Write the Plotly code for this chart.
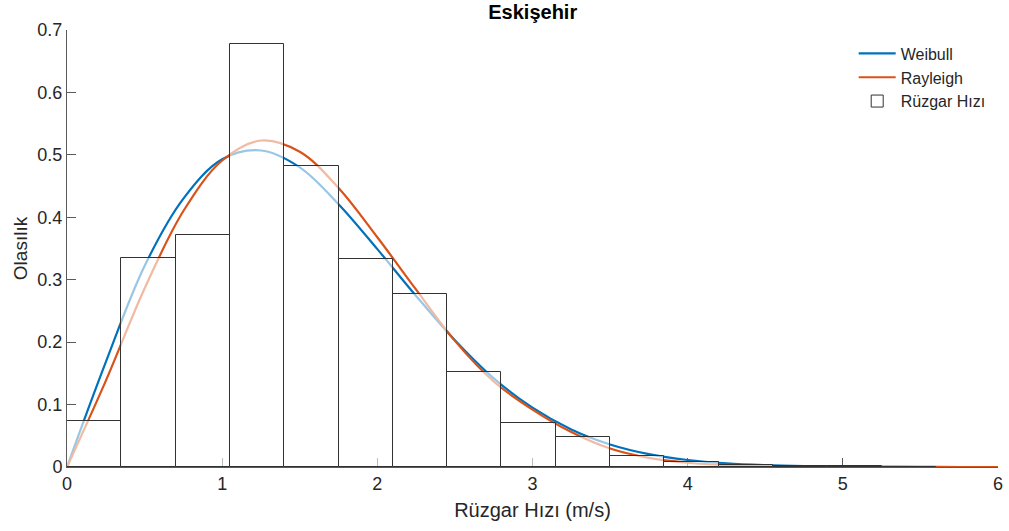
import numpy as np
import plotly.graph_objects as go

# Histogram of wind speed (probability density), bin width 0.35 m/s
bin_width = 0.35
bin_edges = [0.0, 0.35, 0.70, 1.05, 1.40, 1.75, 2.10, 2.45, 2.80, 3.15,
             3.50, 3.85, 4.20, 4.55, 4.90, 5.25, 5.60]
hist_density = [0.0737, 0.3345, 0.3718, 0.677, 0.4814, 0.3333, 0.2772, 0.1522,
                0.0711, 0.0481, 0.0174, 0.0080, 0.0038, 0.0016, 0.0010, 0.0005]

# Fitted density curves, sampled every 0.25 m/s
curve_x = [0.0, 0.25, 0.5, 0.75, 1.0, 1.25, 1.5, 1.75, 2.0, 2.25, 2.5, 2.75,
           3.0, 3.25, 3.5, 3.75, 4.0, 4.25, 4.5, 4.75, 5.0, 5.25, 5.5, 5.75, 6.0]
weibull_y = [0.0, 0.168, 0.322, 0.430, 0.493, 0.507, 0.480, 0.421, 0.349, 0.274,
             0.203, 0.142, 0.095, 0.060, 0.036, 0.0205, 0.0112, 0.0059, 0.0030,
             0.0014, 0.0006, 0.0003, 0.0001, 0.0, 0.0]
rayleigh_y = [0.0, 0.138, 0.286, 0.410, 0.491, 0.523, 0.505, 0.447, 0.368, 0.284,
              0.202, 0.137, 0.092, 0.056, 0.0295, 0.0145, 0.0068, 0.0030, 0.0013,
              0.0005, 0.0002, 0.0001, 0.0, 0.0, 0.0]

x_ticks = [0, 1, 2, 3, 4, 5, 6]
y_ticks = [0, 0.1, 0.2, 0.3, 0.4, 0.5, 0.6, 0.7]

BLUE = "#0072BD"
ORANGE = "#D95319"
TEXT = "#262626"
AXIS = "rgb(90,90,90)"
FONT = "Liberation Sans, Arial, sans-serif"

edges = np.array(bin_edges)
centers = (edges[:-1] + edges[1:]) / 2

fig = go.Figure()
fig.add_trace(go.Scatter(x=curve_x, y=weibull_y, mode="lines", name="Weibull",
                         line=dict(color=BLUE, width=2.2, shape="spline", smoothing=1)))
fig.add_trace(go.Scatter(x=curve_x, y=rayleigh_y, mode="lines", name="Rayleigh",
                         line=dict(color=ORANGE, width=2.2, shape="spline", smoothing=1)))
# Semi-transparent white bars sit on an overlaid axis pair so they cover the curves
fig.add_trace(go.Bar(x=centers, y=hist_density, width=bin_width, name="Rüzgar Hızı",
                     marker=dict(color="rgba(255,255,255,0.6)",
                                 line=dict(color="rgb(50,50,50)", width=1)),
                     xaxis="x2", yaxis="y2"))

axis_common = dict(showgrid=False, zeroline=False, showline=True, linecolor=AXIS,
                   linewidth=1, ticks="inside", ticklen=9, tickcolor=AXIS,
                   tickwidth=1, layer="below traces", mirror=False,
                   tickfont=dict(family=FONT, size=18, color=TEXT))

fig.update_layout(
    width=1009, height=531,
    margin=dict(l=66.5, r=5.7, t=30, b=64.3),
    paper_bgcolor="white", plot_bgcolor="white",
    title=dict(text="<b>Eskişehir</b>", x=0.528, xanchor="center", y=0.99, yanchor="top",
               font=dict(family=FONT, size=20, color="black")),
    xaxis=dict(range=[0, 6], tickvals=x_ticks, ticktext=[str(v) for v in x_ticks],
               title=dict(text="Rüzgar Hızı (m/s)", standoff=10,
                          font=dict(family=FONT, size=20, color=TEXT)),
               **axis_common),
    yaxis=dict(range=[0, 0.7], tickvals=y_ticks,
               ticktext=["0" if v == 0 else f"{v:.1f}" for v in y_ticks],
               title=dict(text="Olasılık", standoff=4,
                          font=dict(family=FONT, size=19, color=TEXT)),
               **axis_common),
    xaxis2=dict(range=[0, 6], overlaying="x", anchor="y2", visible=False),
    yaxis2=dict(range=[0, 0.7], overlaying="y", anchor="x2", visible=False),
    showlegend=True,
    legend=dict(x=0.845, y=0.985, xanchor="left", yanchor="top",
                bgcolor="rgba(255,255,255,0)", borderwidth=0, itemwidth=37,
                font=dict(family=FONT, size=16, color=TEXT), tracegroupgap=0),
    bargap=0,
)

fig.write_html("out.html")
